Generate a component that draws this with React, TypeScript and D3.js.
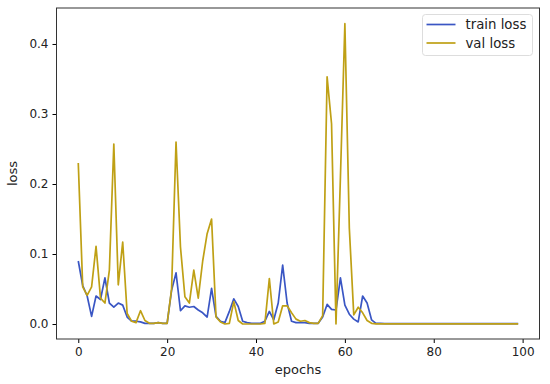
import React, { useRef, useEffect } from "react";
import * as d3 from "d3";

// epochs 0..99
const trainLoss = [
  0.09, 0.055, 0.04, 0.011, 0.04, 0.035, 0.066, 0.03, 0.024, 0.03,
  0.027, 0.01, 0.004, 0.004, 0.003, 0.001, 0.001, 0.001, 0.002, 0.001,
  0.001, 0.048, 0.073, 0.019, 0.026, 0.024, 0.025, 0.02, 0.016, 0.01,
  0.051, 0.011, 0.004, 0.002, 0.018, 0.036, 0.025, 0.004, 0.002, 0.001,
  0.001, 0.001, 0.004, 0.018, 0.006, 0.03, 0.084, 0.03, 0.004, 0.002,
  0.002, 0.002, 0.001, 0.001, 0.001, 0.01, 0.028, 0.021, 0.02, 0.066,
  0.027, 0.014, 0.007, 0.003, 0.04, 0.03, 0.006, 0.001, 0.0008, 0.0007,
  0.0006, 0.0005, 0.0005, 0.0005, 0.0005, 0.0005, 0.0005, 0.0005, 0.0005, 0.0005,
  0.0005, 0.0005, 0.0005, 0.0005, 0.0005, 0.0005, 0.0005, 0.0005, 0.0005, 0.0005,
  0.0005, 0.0005, 0.0005, 0.0005, 0.0005, 0.0005, 0.0005, 0.0005, 0.0005, 0.0005,
];

const valLoss = [
  0.23, 0.053, 0.041, 0.053, 0.111, 0.037, 0.03, 0.077, 0.257, 0.056,
  0.117, 0.015, 0.004, 0.002, 0.019, 0.005, 0.001, 0.001, 0.002, 0.001,
  0.001, 0.05, 0.26, 0.11, 0.039, 0.03, 0.077, 0.037, 0.09, 0.129,
  0.15, 0.01, 0.003, 0.0, 0.001, 0.032, 0.005, 0.0, 0.0, 0.0,
  0.0, 0.0, 0.001, 0.065, 0.0, 0.003, 0.026, 0.026, 0.016, 0.007,
  0.004, 0.005, 0.002, 0.001, 0.001, 0.012, 0.353, 0.286, 0.0, 0.21,
  0.429, 0.137, 0.013, 0.024, 0.016, 0.005, 0.001, 0.0003, 0.0002, 0.0002,
  0.0002, 0.0002, 0.0002, 0.0002, 0.0002, 0.0002, 0.0002, 0.0002, 0.0002, 0.0002,
  0.0002, 0.0002, 0.0002, 0.0002, 0.0002, 0.0002, 0.0002, 0.0002, 0.0002, 0.0002,
  0.0002, 0.0002, 0.0002, 0.0002, 0.0002, 0.0002, 0.0002, 0.0002, 0.0002, 0.0002,
];

const xTicks = [0, 20, 40, 60, 80, 100];
const yTicks = [0.0, 0.1, 0.2, 0.3, 0.4];

const seriesNames = ["train loss", "val loss"];
const seriesColors = ["#3a56c4", "#bfa015"];

const LossChart = () => {
  const ref = useRef<SVGSVGElement>(null);

  useEffect(() => {
    const width = 550;
    const height = 384;
    const marginLeft = 56.5;
    const marginRight = 10.5;
    const marginTop = 8;
    const marginBottom = 45;

    const x = d3
      .scaleLinear()
      .domain([-4.9, 103.8])
      .range([marginLeft, width - marginRight]);
    const y = d3
      .scaleLinear()
      .domain([-0.0214, 0.4514])
      .range([height - marginBottom, marginTop]);

    const svg = d3.select(ref.current);
    svg.selectAll("*").remove();
    svg
      .attr("width", width)
      .attr("height", height)
      .style("font-family", "DejaVu Sans")
      .style("position", "absolute")
      .style("left", "0px")
      .style("top", "0px");

    svg.append("rect").attr("width", width).attr("height", height).attr("fill", "white");

    const line = d3
      .line<number>()
      .x((d, i) => x(i))
      .y((d) => y(d));

    const all = [trainLoss, valLoss];
    all.forEach((s, k) => {
      svg
        .append("path")
        .datum(s)
        .attr("fill", "none")
        .attr("stroke", seriesColors[k])
        .attr("stroke-width", 1.7)
        .attr("stroke-linejoin", "round")
        .attr("d", line);
    });

    // axes
    svg
      .append("g")
      .attr("transform", `translate(0,${height - marginBottom})`)
      .call(d3.axisBottom(x).tickValues(xTicks).tickSize(4).tickPadding(4).tickFormat(d3.format("d")))
      .call((g) => g.select(".domain").remove())
      .call((g) => g.selectAll("text").attr("font-size", 12).attr("fill", "#222").attr("font-family", "DejaVu Sans"));

    svg
      .append("g")
      .attr("transform", `translate(${marginLeft},0)`)
      .call(d3.axisLeft(y).tickValues(yTicks).tickSize(4).tickPadding(4).tickFormat(d3.format(".1f")))
      .call((g) => g.select(".domain").remove())
      .call((g) => g.selectAll("text").attr("font-size", 12).attr("fill", "#222").attr("font-family", "DejaVu Sans"));

    svg
      .append("rect")
      .attr("x", marginLeft)
      .attr("y", marginTop)
      .attr("width", width - marginLeft - marginRight)
      .attr("height", height - marginTop - marginBottom)
      .attr("fill", "none")
      .attr("stroke", "#333")
      .attr("stroke-width", 1);

    svg
      .append("text")
      .attr("x", (marginLeft + width - marginRight) / 2)
      .attr("y", 374)
      .attr("text-anchor", "middle")
      .attr("font-size", 13)
      .attr("fill", "#222")
      .text("epochs");

    svg
      .append("text")
      .attr("transform", `translate(17,${(marginTop + height - marginBottom) / 2}) rotate(-90)`)
      .attr("text-anchor", "middle")
      .attr("font-size", 13)
      .attr("fill", "#222")
      .text("loss");

    // legend
    const lg = svg.append("g").attr("transform", "translate(422.5,14.5)");
    lg.append("rect")
      .attr("width", 110)
      .attr("height", 41)
      .attr("rx", 3)
      .attr("fill", "white")
      .attr("fill-opacity", 0.8)
      .attr("stroke", "#ddd");
    seriesNames.forEach((name, k) => {
      const yy = 10 + k * 18.5;
      lg.append("line")
        .attr("x1", 4)
        .attr("x2", 33)
        .attr("y1", yy)
        .attr("y2", yy)
        .attr("stroke", seriesColors[k])
        .attr("stroke-width", 1.7);
      lg.append("text")
        .attr("x", 43)
        .attr("y", yy + 4.5)
        .attr("font-size", 13.3)
        .attr("fill", "#222")
        .text(name);
    });
  }, []);

  return <svg ref={ref}></svg>;
};

export default function App() {
  return <LossChart />;
}
